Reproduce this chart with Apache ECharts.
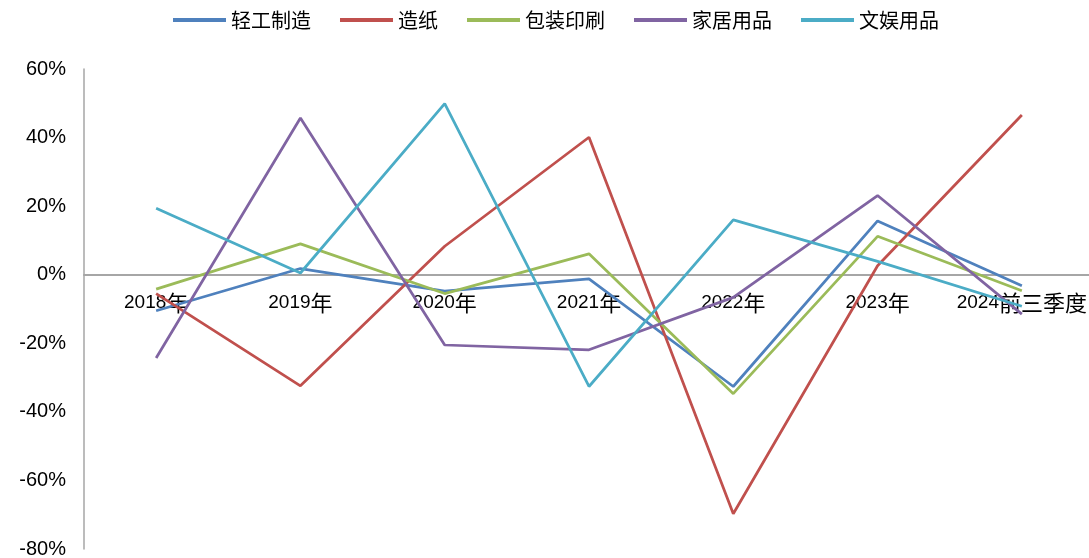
<!DOCTYPE html>
<html>
<head>
<meta charset="utf-8">
<script src="https://cdn.jsdelivr.net/npm/echarts@6/dist/echarts.min.js"></script>
<style>
  html, body { margin: 0; padding: 0; background: #fff; }
  #chart { width: 1089px; height: 558px; }
</style>
</head>
<body>
<div id="chart"></div>
<script>
// Year-on-year growth by sub-sector (%)
const categories = ['2018年', '2019年', '2020年', '2021年', '2022年', '2023年', '2024前三季度'];
const seriesNames = ['轻工制造', '造纸', '包装印刷', '家居用品', '文娱用品'];
const lightIndustry = [-10.5, 1.8, -4.8, -1.2, -32.6, 15.7, -3.2];
const paper         = [-5.5, -32.4, 8.3, 40.1, -69.7, 2.6, 46.6];
const packaging     = [-4.2, 9.0, -5.5, 6.1, -34.7, 11.2, -4.7];
const household     = [-24.3, 45.7, -20.5, -21.9, -6.6, 23.1, -11.5];
const entertainment = [19.4, 0.5, 49.9, -32.6, 16.0, 3.9, -9.2];
const yTicks = [-80, -60, -40, -20, 0, 20, 40, 60];

const colors = ['#4F81BD', '#C0504D', '#9BBB59', '#8064A2', '#4BACC6'];
const values = [lightIndustry, paper, packaging, household, entertainment];

const yMin = yTicks[0];
const yMax = yTicks[yTicks.length - 1];
const plotHeight = 480;
// lift the category axis up to the zero line, labels included
const zeroOffset = -(0 - yMin) / (yMax - yMin) * plotHeight;

const chart = echarts.init(document.getElementById('chart'));

chart.setOption({
  animation: false,
  color: colors,
  legend: {
    top: 5,
    left: 168,
    icon: 'rect',
    itemWidth: 53,
    itemHeight: 4,
    itemGap: 29,
    textStyle: {
      fontFamily: '"Noto Sans CJK SC"',
      fontSize: 20,
      color: '#000'
    },
    data: seriesNames
  },
  grid: {
    left: 84,
    top: 69,
    width: 1010,
    height: plotHeight,
    containLabel: false,
    outerBoundsMode: 'none'
  },
  xAxis: {
    type: 'category',
    data: categories,
    boundaryGap: true,
    offset: zeroOffset,
    axisLine: { onZero: false, lineStyle: { color: '#a6a6a6', width: 2 } },
    axisTick: { show: false },
    axisLabel: {
      margin: 17,
      interval: 0,
      hideOverlap: false,
      formatter: function (v) {
        const m = v.match(/^(\d+)(.*)$/);
        return m ? '{d|' + m[1] + '}{c|' + m[2] + '}' : v;
      },
      rich: {
        d: { fontFamily: '"Liberation Sans", Arial', fontSize: 19, color: '#000' },
        c: { fontFamily: '"Noto Sans CJK SC"', fontSize: 22, color: '#000' }
      }
    },
    splitLine: { show: false }
  },
  yAxis: {
    type: 'value',
    min: yMin,
    max: yMax,
    interval: 20,
    axisLine: { show: true, lineStyle: { color: '#a6a6a6', width: 1.5 } },
    axisTick: { show: false },
    splitLine: { show: false },
    axisLabel: {
      margin: 18,
      fontFamily: '"Liberation Sans", Arial',
      fontSize: 20,
      color: '#000',
      formatter: '{value}%'
    }
  },
  series: seriesNames.map((name, i) => ({
    name: name,
    type: 'line',
    data: values[i],
    symbol: 'none',
    lineStyle: { width: 2.75, color: colors[i] },
    itemStyle: { color: colors[i] }
  }))
});
</script>
</body>
</html>
